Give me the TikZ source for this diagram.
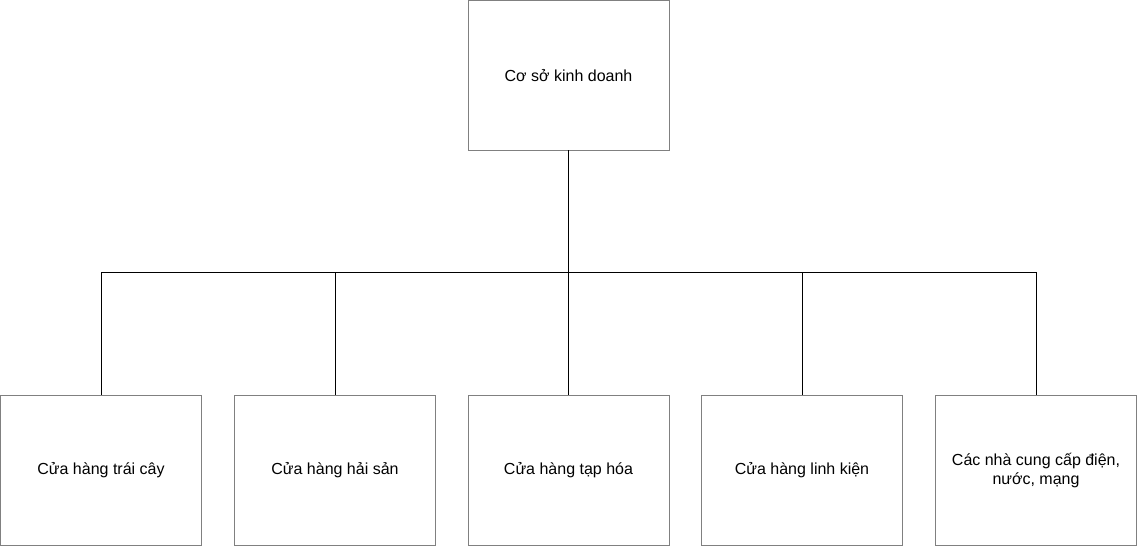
\documentclass[tikz,border=0pt]{standalone}
\usepackage{fontspec}
\setmainfont{Liberation Sans}
\begin{document}
\begin{tikzpicture}[x=1pt,y=1pt,
  box/.style={draw=black!50,line width=1pt,minimum width=201pt,minimum height=150pt,inner sep=0pt,outer sep=0pt,align=center,font=\fontsize{16pt}{18.5pt}\selectfont},
  conn/.style={draw=black,line width=1pt}]
\useasboundingbox (0,0) rectangle (1137,546);
\node[box] (root) at (568.5,470.5) {Cơ sở kinh doanh};
\node[box] (c1) at (101,75.5) {Cửa hàng trái cây};
\node[box] (c2) at (335,75.5) {Cửa hàng hải sản};
\node[box] (c3) at (568.5,75.5) {Cửa hàng tạp hóa};
\node[box] (c4) at (802,75.5) {Cửa hàng linh kiện};
\node[box] (c5) at (1036,75.5) {Các nhà cung cấp điện,\\nước, mạng};
\coordinate (bus) at (568.5,273);
\foreach \c in {c1,c2,c3,c4,c5}
  \draw[conn] (root.south) -- (bus) -| (\c.north);
\end{tikzpicture}
\end{document}
